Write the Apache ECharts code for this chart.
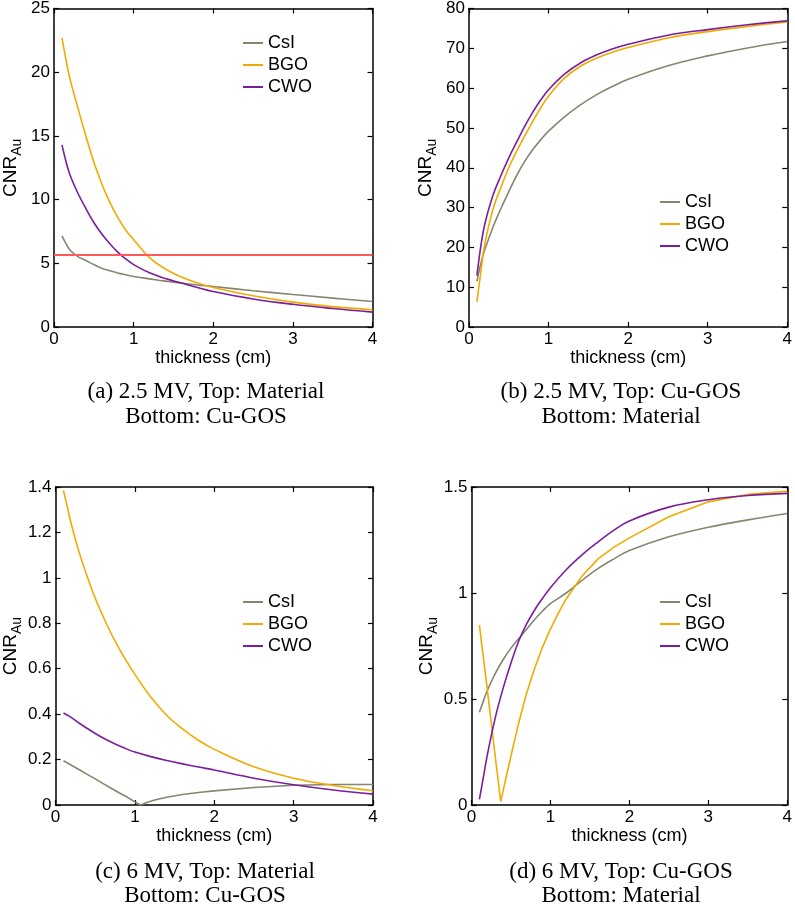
<!DOCTYPE html>
<html>
<head>
<meta charset="utf-8">
<script src="https://cdn.jsdelivr.net/npm/echarts@6/dist/echarts.min.js"></script>
<style>
  html, body { margin: 0; padding: 0; background: #ffffff; }
  #chart { width: 795px; height: 905px; }
</style>
</head>
<body>
<div id="chart"></div>
<script>
// ---------------- data ----------------
const seriesNames = ['CsI', 'BGO', 'CWO'];
const xTicks = [0, 1, 2, 3, 4];
const yTicksA = [0, 5, 10, 15, 20, 25];
const yTicksB = [0, 10, 20, 30, 40, 50, 60, 70, 80];
const yTicksC = [0, 0.2, 0.4, 0.6, 0.8, 1, 1.2, 1.4];
const yTicksD = [0, 0.5, 1, 1.5];

const xs = [0.1, 0.15, 0.2, 0.3, 0.4, 0.5, 0.6, 0.7, 0.8, 0.9, 1.0, 1.2, 1.4, 1.6, 1.8, 2.0, 2.5, 3.0, 3.5, 4.0];

// (a) 2.5 MV, Top: Material, Bottom: Cu-GOS
const aCsI = [7.15, 6.55, 6.05, 5.52, 5.22, 4.9, 4.62, 4.42, 4.24, 4.1, 3.97, 3.78, 3.6, 3.45, 3.3, 3.18, 2.85, 2.55, 2.27, 2.0];
const aBGO = [22.7, 21.0, 19.5, 17.2, 15.0, 12.95, 11.25, 9.8, 8.6, 7.62, 6.85, 5.45, 4.55, 3.92, 3.45, 3.1, 2.45, 1.95, 1.6, 1.35];
const aCWO = [14.3, 13.0, 11.95, 10.5, 9.3, 8.2, 7.3, 6.55, 5.88, 5.35, 4.9, 4.25, 3.8, 3.45, 3.1, 2.78, 2.2, 1.78, 1.45, 1.17];
const aRefLine = [5.7];

// (b) 2.5 MV, Top: Cu-GOS, Bottom: Material
const bCsI = [11.5, 16, 19.5, 25, 29.7, 34, 38.1, 41.6, 44.5, 47, 49.2, 52.8, 55.8, 58.3, 60.4, 62.2, 65.6, 68.1, 70.1, 71.7];
const bBGO = [6.3, 14, 21, 29.5, 35, 40, 44.2, 48, 51.6, 55, 58, 62.5, 65.5, 67.5, 69, 70.2, 72.6, 74.2, 75.5, 76.6];
const bCWO = [12.9, 20.5, 26, 33, 38, 42.5, 46.5, 50.4, 53.9, 57, 59.6, 63.5, 66.3, 68.3, 69.8, 71, 73.3, 74.7, 75.9, 76.9];

// (c) 6 MV, Top: Material, Bottom: Cu-GOS
const cCsIx = [0.1, 0.2, 0.3, 0.4, 0.5, 0.6, 0.7, 0.8, 0.9, 1.0, 1.07, 1.15, 1.25, 1.4, 1.6, 1.8, 2.0, 2.5, 3.0, 3.5, 4.0];
const cCsI = [0.195, 0.175, 0.155, 0.135, 0.115, 0.094, 0.074, 0.054, 0.035, 0.014, 0.0, 0.011, 0.022, 0.034, 0.046, 0.055, 0.062, 0.077, 0.087, 0.09, 0.09];
const cBGO = [1.385, 1.31, 1.235, 1.11, 1.005, 0.91, 0.83, 0.755, 0.69, 0.63, 0.575, 0.475, 0.395, 0.335, 0.285, 0.245, 0.168, 0.118, 0.086, 0.063];
const cCWO = [0.405, 0.395, 0.385, 0.36, 0.337, 0.315, 0.295, 0.277, 0.261, 0.246, 0.233, 0.213, 0.196, 0.181, 0.167, 0.154, 0.118, 0.089, 0.066, 0.048];

// (d) 6 MV, Top: Cu-GOS, Bottom: Material
const dCsI = [0.437, 0.49, 0.54, 0.62, 0.685, 0.74, 0.785, 0.83, 0.875, 0.915, 0.95, 1.0, 1.06, 1.115, 1.16, 1.2, 1.265, 1.31, 1.345, 1.375];
const dBGOx = [0.1, 0.2, 0.3, 0.37, 0.42, 0.47, 0.53, 0.6, 0.7, 0.8, 0.9, 1.0, 1.1, 1.2, 1.4, 1.6, 1.8, 2.0, 2.5, 3.0, 3.5, 4.0];
const dBGO = [0.848, 0.545, 0.23, 0.016, 0.1, 0.183, 0.28, 0.39, 0.53, 0.645, 0.745, 0.83, 0.905, 0.972, 1.08, 1.16, 1.215, 1.26, 1.36, 1.43, 1.465, 1.48];
const dCWO = [0.027, 0.13, 0.235, 0.41, 0.55, 0.67, 0.775, 0.855, 0.92, 0.975, 1.025, 1.11, 1.18, 1.24, 1.295, 1.34, 1.405, 1.44, 1.46, 1.47];

const captions = [
  ['(a) 2.5 MV, Top: Material', 'Bottom: Cu-GOS'],
  ['(b) 2.5 MV, Top: Cu-GOS', 'Bottom: Material'],
  ['(c) 6 MV, Top: Material', 'Bottom: Cu-GOS'],
  ['(d) 6 MV, Top: Cu-GOS', 'Bottom: Material']
];

// ---------------- styling / layout ----------------
const colors = { CsI: '#86866f', BGO: '#f2aa00', CWO: '#7a1e9e' };
const sans = 'Liberation Sans, Arial, Helvetica, sans-serif';
const serif = 'Liberation Serif, Times New Roman, serif';

const grids = [
  { left: 52, top: 6, width: 320.5, height: 321 },
  { left: 469, top: 6, width: 321, height: 321 },
  { left: 55, top: 487, width: 318, height: 318 },
  { left: 471.5, top: 487, width: 318.5, height: 318 }
];
const yTickSets = [yTicksA, yTicksB, yTicksC, yTicksD];
const legendPos = [
  { left: 243, top: 34 },
  { left: 660, top: 193 },
  { left: 243, top: 593 },
  { left: 660, top: 593 }
];
const captionPos = [
  { x: 206, y1: 392, y2: 417 },
  { x: 621, y1: 392, y2: 417 },
  { x: 205, y1: 872, y2: 896 },
  { x: 621, y1: 872, y2: 896 }
];

function pairs(x, y) { return x.map((v, i) => [v, y[i]]); }

const xAxes = [], yAxes = [];
for (let i = 0; i < 4; i++) {
  const yt = yTickSets[i];
  xAxes.push({
    type: 'value', gridIndex: i, position: 'bottom',
    min: xTicks[0], max: xTicks[xTicks.length - 1], interval: xTicks[1] - xTicks[0],
    splitLine: { show: false },
    axisLine: { show: true, onZero: false, lineStyle: { color: '#000', width: 1.5 } },
    axisTick: { show: true, inside: true, length: 5, lineStyle: { color: '#000', width: 1.2 } },
    axisLabel: { show: true, color: '#000', fontSize: 17, fontFamily: sans, margin: 4 },
    name: 'thickness (cm)', nameLocation: 'middle', nameGap: 21,
    nameTextStyle: { color: '#000', fontSize: 18, fontFamily: sans }
  });
  yAxes.push({
    type: 'value', gridIndex: i, position: 'left',
    min: yt[0], max: yt[yt.length - 1], interval: yt[1] - yt[0],
    splitLine: { show: false },
    axisLine: { show: true, onZero: false, lineStyle: { color: '#000', width: 1.5 } },
    axisTick: { show: true, inside: true, length: 5, lineStyle: { color: '#000', width: 1.2 } },
    axisLabel: { show: true, color: '#000', fontSize: 17, fontFamily: sans, margin: 4 },
    name: '{m|CNR}{s|Au}', nameLocation: 'middle', nameRotate: 90, nameGap: 30,
    nameTextStyle: {
      color: '#000', fontFamily: sans,
      rich: {
        m: { fontSize: 19, fontFamily: sans, color: '#000', verticalAlign: 'top' },
        s: { fontSize: 14, fontFamily: sans, color: '#000', verticalAlign: 'top', padding: [9, 0, 0, 0] }
      }
    }
  });
}
for (let i = 0; i < 4; i++) {
  const yt = yTickSets[i];
  xAxes.push({
    type: 'value', gridIndex: i, position: 'top',
    min: xTicks[0], max: xTicks[xTicks.length - 1], interval: xTicks[1] - xTicks[0],
    splitLine: { show: false },
    axisLine: { show: true, onZero: false, lineStyle: { color: '#000', width: 1.5 } },
    axisTick: { show: true, inside: true, length: 5, lineStyle: { color: '#000', width: 1.2 } },
    axisLabel: { show: false }
  });
  yAxes.push({
    type: 'value', gridIndex: i, position: 'right',
    min: yt[0], max: yt[yt.length - 1], interval: yt[1] - yt[0],
    splitLine: { show: false },
    axisLine: { show: true, onZero: false, lineStyle: { color: '#000', width: 1.5 } },
    axisTick: { show: true, inside: true, length: 5, lineStyle: { color: '#000', width: 1.2 } },
    axisLabel: { show: false }
  });
}

function mkSeries(name, data, gi, smooth, extra) {
  return Object.assign({
    type: 'line', name: name, xAxisIndex: gi, yAxisIndex: gi,
    data: data, showSymbol: false, symbol: 'none', smooth: smooth,
    clip: true, animation: false,
    lineStyle: { color: colors[name], width: 1.6 },
    itemStyle: { color: colors[name] }
  }, extra || {});
}

const series = [
  mkSeries('CsI', pairs(xs, aCsI), 0, 0.4, {
    markLine: {
      silent: true, symbol: 'none', animation: false,
      label: { show: false },
      lineStyle: { color: '#ff5a5a', width: 2, type: 'solid' },
      data: aRefLine.map(v => ({ yAxis: v }))
    }
  }),
  mkSeries('BGO', pairs(xs, aBGO), 0, 0.4),
  mkSeries('CWO', pairs(xs, aCWO), 0, 0.4),

  mkSeries('CsI', pairs(xs, bCsI), 1, 0.4),
  mkSeries('BGO', pairs(xs, bBGO), 1, 0.4),
  mkSeries('CWO', pairs(xs, bCWO), 1, 0.4),

  mkSeries('CsI', pairs(cCsIx, cCsI), 2, false),
  mkSeries('BGO', pairs(xs, cBGO), 2, 0.4),
  mkSeries('CWO', pairs(xs, cCWO), 2, 0.4),

  mkSeries('CsI', pairs(xs, dCsI), 3, 0.4),
  mkSeries('BGO', pairs(dBGOx, dBGO), 3, false),
  mkSeries('CWO', pairs(xs, dCWO), 3, 0.4)
];

const legends = legendPos.map(p => ({
  show: true, orient: 'vertical', left: p.left, top: p.top, padding: 0,
  data: seriesNames, icon: 'rect', itemWidth: 20, itemHeight: 2, itemGap: 4,
  selectedMode: false,
  textStyle: { color: '#000', fontSize: 18, fontFamily: sans, lineHeight: 18 }
}));

const graphics = [];
captions.forEach((c, i) => {
  const p = captionPos[i];
  graphics.push({ type: 'text', x: p.x, y: p.y1, silent: true,
    style: { text: c[0], fill: '#000', font: '23px ' + serif, textAlign: 'center', textVerticalAlign: 'middle' } });
  graphics.push({ type: 'text', x: p.x, y: p.y2, silent: true,
    style: { text: c[1], fill: '#000', font: '23px ' + serif, textAlign: 'center', textVerticalAlign: 'middle' } });
});

const chart = echarts.init(document.getElementById('chart'), null, { renderer: 'canvas' });
chart.setOption({
  animation: false,
  backgroundColor: '#ffffff',
  grid: grids,
  xAxis: xAxes,
  yAxis: yAxes,
  legend: legends,
  series: series,
  graphic: graphics
});
</script>
</body>
</html>
